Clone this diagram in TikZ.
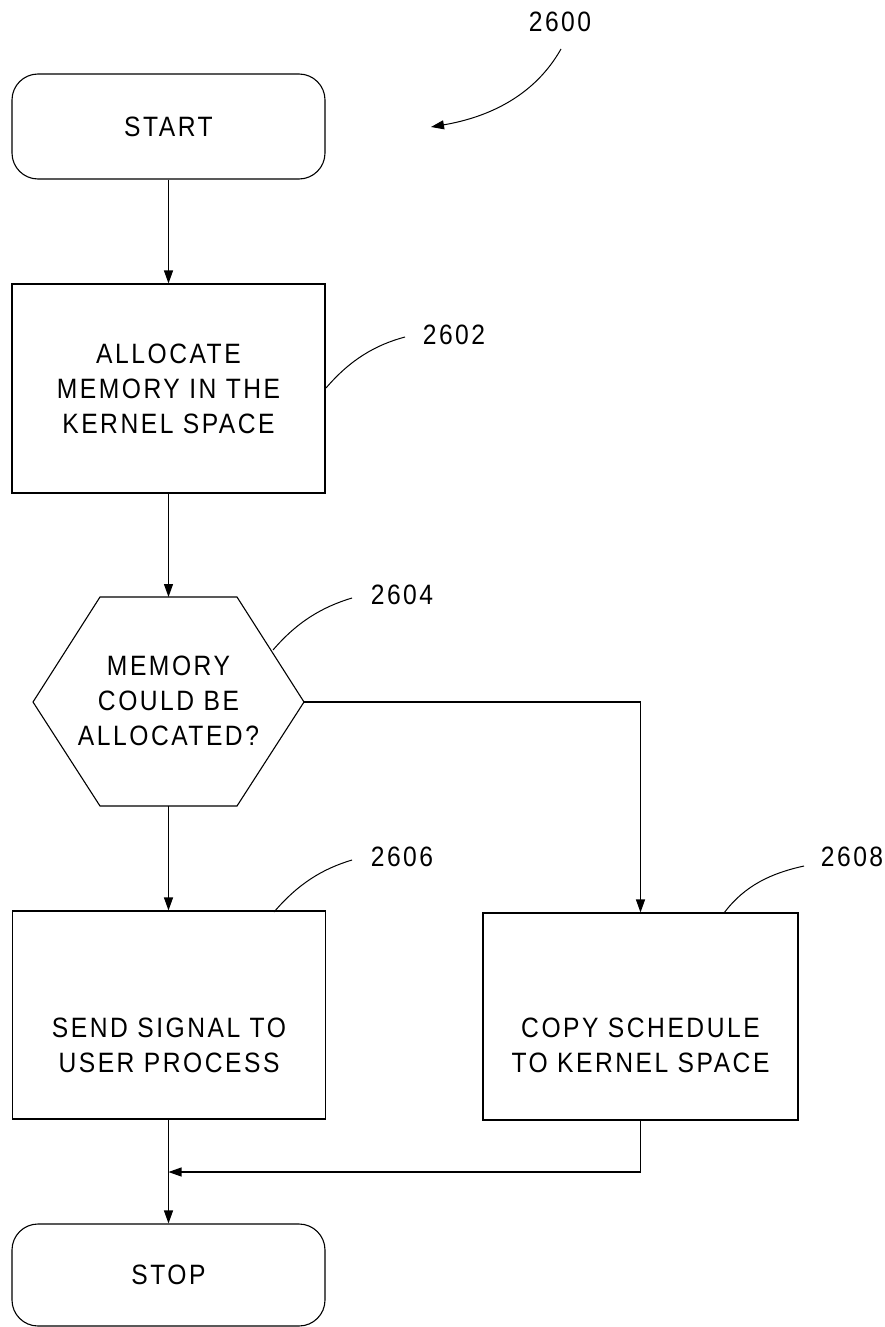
\documentclass[tikz,border=0pt]{standalone}
\usepackage{fontspec}
\setmainfont{Liberation Sans}[FakeStretch=0.88,LetterSpace=9]
\usetikzlibrary{arrows.meta}
\begin{document}
\begin{tikzpicture}[x=1pt,y=-1pt,line width=1.1pt,
  txt/.style={font=\fontsize{28}{35}\selectfont,align=center,inner sep=0pt},
  box/.style={draw,minimum width=313pt,inner sep=0pt,txt},
  term/.style={box,rounded corners=26pt},
  arr/.style={-{Triangle[length=13pt,width=9pt]}},
  lbl/.style={font=\fontsize{28}{30}\selectfont,inner sep=0pt},
  leader/.style={line width=1pt}]
\useasboundingbox (0,0) rectangle (885,1327);
% nodes
\node[term,minimum height=105pt] (start) at (168.5,126.5) {START};
\node[box,minimum height=209pt] (b2602) at (168.5,388.5) {ALLOCATE\\MEMORY IN THE\\KERNEL SPACE};
\coordinate (hl) at (33,702);
\coordinate (htl) at (100,597);
\coordinate (ht) at (168.5,597);
\coordinate (htr) at (237,597);
\coordinate (hr) at (304,702);
\coordinate (hbr) at (237,806);
\coordinate (hb) at (168.5,806);
\coordinate (hbl) at (100,806);
\draw (hl) -- (htl) -- (htr) -- (hr) -- (hbr) -- (hbl) -- cycle;
\node[txt] (hex) at (168.5,701) {MEMORY\\COULD BE\\ALLOCATED?};
\node[box,minimum height=208pt] (b2606) at (169,1015) {};
\node[txt] (t2606) at (169,1045) {SEND SIGNAL TO\\USER PROCESS};
\node[box,minimum height=207pt,minimum width=315pt] (b2608) at (640.5,1016.5) {};
\node[txt] (t2608) at (640.5,1045) {COPY SCHEDULE\\TO KERNEL SPACE};
\node[term,minimum height=102pt] (stop) at (168.5,1275) {STOP};
\coordinate (join) at (168.5,1172);
% connectors
\draw[arr] (start.south) -- (b2602.north);
\draw[arr] (b2602.south) -- (ht);
\draw[arr] (hb) -- (b2606.north -| hb);
\draw[arr] (hr) -| (b2608.north);
\draw (b2606.south -| join) -- (join);
\draw[arr] (join) -- (stop.north);
\draw[arr] (b2608.south) |- (join);
% labels
\node[lbl] (l2600) at (560,22) {2600};
\node[lbl] (l2602) at (454,335) {2602};
\node[lbl] (l2604) at (402,595) {2604};
\node[lbl] (l2606) at (402,857) {2606};
\node[lbl] (l2608) at (852,857) {2608};
\coordinate (a2600s) at (561,49);
\coordinate (a2600e) at (431,127);
\draw[arr,leader] (a2600s) .. controls (535,95) and (490,117) .. (a2600e);
\coordinate (p2602) at (326,388);
\coordinate (q2602) at (405,337);
\draw[leader] (p2602) .. controls (350,360) and (375,345) .. (q2602);
\coordinate (p2604) at (273,650);
\coordinate (q2604) at (352,598);
\draw[leader] (p2604) .. controls (297,622) and (322,607) .. (q2604);
\coordinate (p2606) at (274,912);
\coordinate (q2606) at (352,860);
\draw[leader] (p2606) .. controls (298,884) and (322,869) .. (q2606);
\coordinate (p2608) at (724,913);
\coordinate (q2608) at (804,866);
\draw[leader] (p2608) .. controls (745,885) and (772,873) .. (q2608);
\end{tikzpicture}
\end{document}
